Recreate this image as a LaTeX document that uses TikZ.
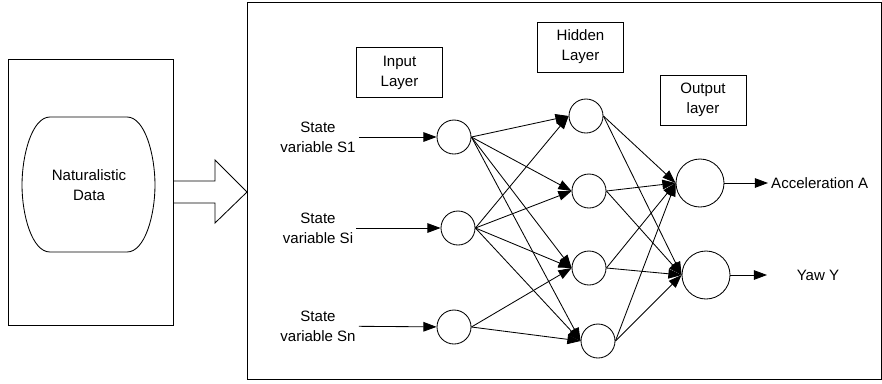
\documentclass[tikz,border=0pt]{standalone}
\usepackage{fontspec}
\setmainfont{Liberation Sans}
\usetikzlibrary{arrows.meta}
\tikzset{
  neuron/.style={draw,circle,minimum size=0.85cm,inner sep=0pt},
  outneuron/.style={draw,circle,minimum size=1.2cm,inner sep=0pt},
  layerbox/.style={draw,rectangle,minimum width=2.15cm,minimum height=1.25cm,align=center},
  statelabel/.style={align=center,inner sep=2pt},
  link/.style={-{Triangle[length=0.33cm,width=0.24cm]}},
}
\begin{document}
\begin{tikzpicture}[x=0.025cm,y=-0.025cm,line width=0.6pt,font=\fontsize{10.7}{14.2}\selectfont]
      \useasboundingbox (0,0) rectangle (882,383);
      \draw (8,59) rectangle (173,325);
      \draw (247,2) rectangle (881,379);
      \draw (50,117) -- (127,117)
        .. controls (145,117) and (155,155) .. (155,185)
        .. controls (155,215) and (145,252) .. (127,252)
        -- (50,252)
        .. controls (32,252) and (22,215) .. (22,185)
        .. controls (22,155) and (32,117) .. (50,117) -- cycle;
      \node (data) at (89,185) [align=center] {Naturalistic\\Data};
      \draw (173,181) -- (215,181) -- (215,160) -- (247,192)
        -- (215,223) -- (215,203) -- (173,203);
      \node[layerbox] (inlayer) at (399.5,72.5) {Input\\Layer};
      \node[layerbox] (hidlayer) at (580.5,47) {Hidden\\Layer};
      \node[layerbox] (outlayer) at (703,100) {Output\\layer};
      \draw
        (454,137) node[neuron] (i1){}
        (458,228) node[neuron] (i2){}
        (454,327) node[neuron] (i3){}
        (586,116) node[neuron] (h1){}
        (589,191) node[neuron] (h2){}
        (589,268) node[neuron] (h3){}
        (598,341) node[neuron] (h4){}
        (700,183) node[outneuron] (o1){}
        (706,275) node[outneuron] (o2){};
      \node[statelabel] (s1) at (318,137) {State\\variable S1};
      \node[statelabel] (si) at (318,228) {State\\variable Si};
      \node[statelabel] (sn) at (318,326) {State\\variable Sn};
      \node[anchor=west,inner sep=2pt] (accel) at (768,183) {Acceleration A};
      \coordinate (yawend) at (767,275);
      \node (yaw) at (818,275) {Yaw Y};
      \begin{scope}[link]
        \draw (s1) to (i1);
        \draw (si) to (i2);
        \draw (sn) to (i3);
        \draw (i1.east) to (h1.west);
        \draw (i1.east) to (h2.west);
        \draw (i1.east) to (h3.west);
        \draw (i1.east) to (h4.west);
        \draw (i2.east) to (h1.west);
        \draw (i2.east) to (h2.west);
        \draw (i2.east) to (h3.west);
        \draw (i2.east) to (h4.west);
        \draw (i3.east) to (h3.west);
        \draw (i3.east) to (h4.west);
        \draw (h1.east) to (o1.west);
        \draw (h1.east) to (o2.west);
        \draw (h2.east) to (o1.west);
        \draw (h2.east) to (o2.west);
        \draw (h3.east) to (o1.west);
        \draw (h3.east) to (o2.west);
        \draw (h4.east) to (o1.west);
        \draw (h4.east) to (o2.west);
        \draw (o1) to (accel);
        \draw (o2) to (yawend);
      \end{scope}
    \end{tikzpicture}
\end{document}
